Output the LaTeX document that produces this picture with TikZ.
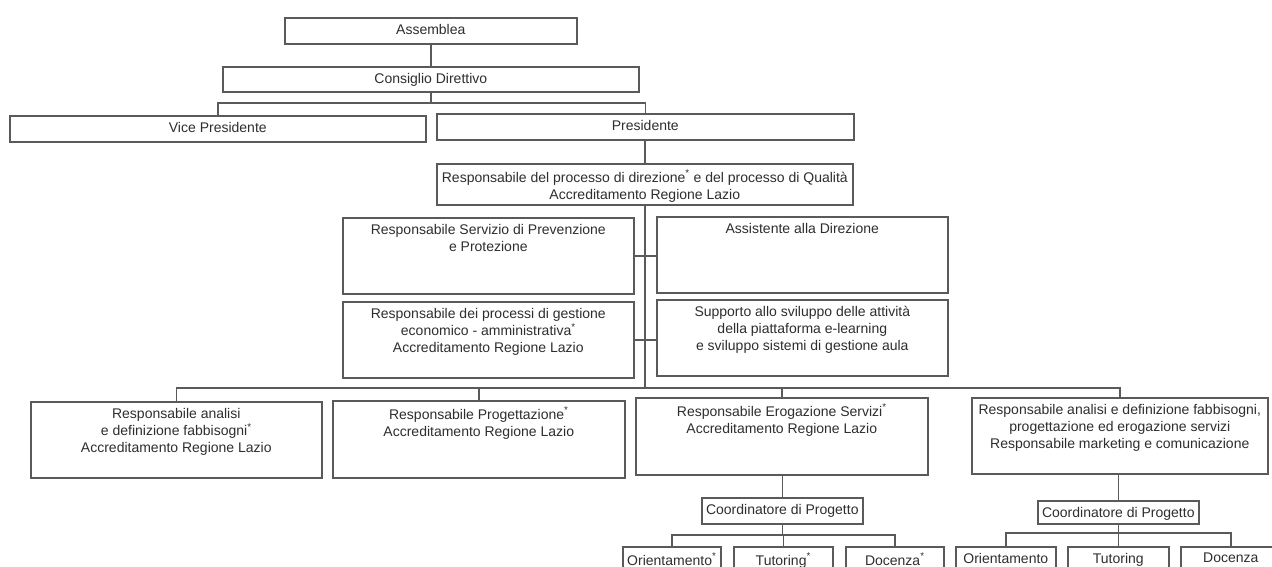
\documentclass[tikz,border=0pt]{standalone}
\usepackage{fontspec}
\setmainfont{Liberation Sans}
\definecolor{lc}{HTML}{5A5A5A}
\definecolor{tc}{HTML}{2E2E2E}
\newcommand\orgbox[6]{\node[orgb, minimum width=#4pt-#2pt, minimum height=#5pt-#3pt, label={[lbl]north:{#6}}] (#1) at (#2,#3) {};}
\newcommand\myast{\textsuperscript{*}}
\begin{document}
\begin{tikzpicture}[x=1pt,y=-1pt,
  orgb/.style={draw=lc, line width=1.6pt, inner sep=0pt, anchor=north west},
  lbl/.style={anchor=north, inner sep=0pt, align=center, yshift=-7pt, text=tc, font=\fontsize{14}{17}\selectfont},
  conn/.style={draw=lc, line width=1.6pt}]
\useasboundingbox (0,0) rectangle (1272,567);
\fill[white] (0,0) rectangle (1272,567);
\clip (0,0) rectangle (1272,567);
% boxes
\orgbox{ass}{284}{17}{576}{43}{Assemblea}
\orgbox{cons}{222}{66}{638}{91}{Consiglio Direttivo}
\orgbox{vice}{9}{115}{425}{141}{Vice Presidente}
\orgbox{pres}{436}{113}{853}{139}{Presidente}
\orgbox{dir}{436}{163}{852}{204}{Responsabile del processo di direzione\myast{} e del processo di Qualità\\Accreditamento Regione Lazio}
\orgbox{rspp}{342}{217}{633}{293}{Responsabile Servizio di Prevenzione\\e Protezione}
\orgbox{gest}{342}{301}{633}{377}{Responsabile dei processi di gestione\\economico - amministrativa\myast\\Accreditamento Regione Lazio}
\orgbox{assd}{656}{216}{947}{292}{Assistente alla Direzione}
\orgbox{supp}{656}{299}{947}{375}{Supporto allo sviluppo delle attività\\della piattaforma e-learning\\e sviluppo sistemi di gestione aula}
\orgbox{ra}{30}{401}{321}{477}{Responsabile analisi\\e definizione fabbisogni\myast\\Accreditamento Regione Lazio}
\orgbox{rp}{332}{400}{624}{477}{Responsabile Progettazione\myast\\Accreditamento Regione Lazio}
\orgbox{re}{635}{397}{927}{474}{Responsabile Erogazione Servizi\myast\\Accreditamento Regione Lazio}
\orgbox{rm}{971}{397}{1267}{473}{Responsabile analisi e definizione fabbisogni,\\progettazione ed erogazione servizi\\Responsabile marketing e comunicazione}
\orgbox{c1}{701}{497}{862}{523}{Coordinatore di Progetto}
\orgbox{c2}{1037}{500}{1198}{523}{Coordinatore di Progetto}
\orgbox{o1}{622}{546}{720}{600}{Orientamento\myast}
\orgbox{t1}{733}{546}{832}{600}{Tutoring\myast}
\orgbox{d1}{845}{546}{943}{600}{Docenza\myast}
\orgbox{o2}{955}{546}{1055}{600}{Orientamento}
\orgbox{t2}{1067}{546}{1168}{600}{Tutoring}
\orgbox{d2}{1180}{546}{1280}{600}{Docenza}
% bus coordinates
\coordinate (b1) at (430,103);
\coordinate (b2) at (644,388);
\coordinate (s1) at (781,535);
\coordinate (s2) at (1117,533);
% connectors
\draw[conn] (ass) -- (cons);
\draw[conn] (cons.south) -- (cons.south |- b1);
\draw[conn] (vice.north) |- (b1) -| (pres.north);
\draw[conn] (dir.north |- pres.south) -- (dir.north);
\draw[conn] (dir.south) -- (dir.south |- b2);
\draw[conn] (rspp.east) -- (rspp.east -| assd.west);
\draw[conn] (gest.east) -- (gest.east -| supp.west);
\draw[conn] (ra.north) |- (b2) -| (rm.north);
\draw[conn] (rp.north) -- (rp.north |- b2);
\draw[conn] (re.north) -- (re.north |- b2);
\draw[conn] (c1.north |- re.south) -- (c1.north);
\draw[conn] (c1.south) -- (c1.south |- s1);
\draw[conn] (o1.north) |- (s1) -| (d1.north);
\draw[conn] (t1.north) -- (t1.north |- s1);
\draw[conn] (c2.north |- rm.south) -- (c2.north);
\draw[conn] (c2.south) -- (c2.south |- s2);
\draw[conn] (o2.north) |- (s2) -| (d2.north);
\draw[conn] (t2.north) -- (t2.north |- s2);
\end{tikzpicture}
\end{document}
